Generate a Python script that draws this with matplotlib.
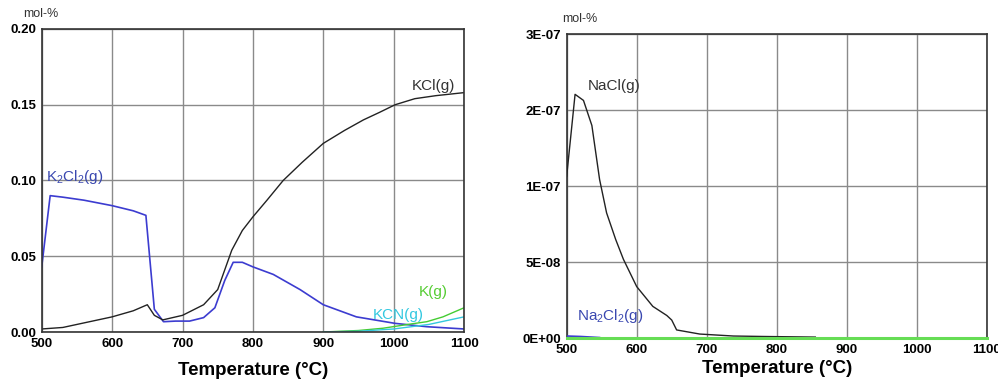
import numpy as np
import matplotlib
matplotlib.use("Agg")
import matplotlib.pyplot as plt

plt.rcParams['font.family'] = ['Liberation Sans', 'DejaVu Sans']
plt.rcParams['mathtext.fontset'] = 'custom'
plt.rcParams['mathtext.rm'] = 'Liberation Sans'
plt.rcParams['mathtext.it'] = 'Liberation Sans'

# ---------------- data: left panel ----------------
x_ticks = [500, 600, 700, 800, 900, 1000, 1100]
left_yticks = [0.00, 0.05, 0.10, 0.15, 0.20]

t_k2cl2 = [500, 512, 530, 560, 600, 630, 648, 660, 673, 690, 710, 730, 746, 760, 772, 785,
           800, 829, 867, 900, 947, 1002, 1047, 1100]
k2cl2 = [0.043, 0.090, 0.089, 0.087, 0.0834, 0.080, 0.077, 0.015, 0.0068, 0.0072, 0.0072,
         0.0095, 0.016, 0.034, 0.046, 0.046, 0.043, 0.038, 0.028, 0.018, 0.010, 0.0057, 0.0035, 0.002]

t_kcl = [500, 530, 560, 600, 630, 650, 660, 672, 700, 730, 750, 770, 785, 800, 820, 843,
         870, 900, 930, 957, 980, 1002, 1030, 1060, 1100]
kcl = [0.002, 0.003, 0.006, 0.010, 0.014, 0.018, 0.011, 0.008, 0.011, 0.018, 0.028, 0.054,
       0.067, 0.076, 0.087, 0.100, 0.112, 0.1245, 0.133, 0.140, 0.145, 0.150, 0.154, 0.156, 0.158]

t_k = [900, 950, 985, 1020, 1047, 1070, 1100]
k_g = [0.0, 0.001, 0.0025, 0.005, 0.0068, 0.010, 0.016]

t_kcn = [900, 950, 1000, 1050, 1100]
kcn = [0.0, 0.0005, 0.002, 0.005, 0.010]

# ---------------- data: right panel ----------------
right_ytick_vals = [0.0, 5e-8, 1e-7, 2e-7, 3e-7]
right_ytick_labels = ['0E+00', '5E-08', '1E-07', '2E-07', '3E-07']

t_nacl = [500, 512, 524, 536, 547, 557, 570, 581, 600, 623, 643, 650, 657, 690, 738, 781, 855]
nacl = [1.13e-7, 2.21e-7, 2.13e-7, 1.80e-7, 1.09e-7, 8.25e-8, 6.5e-8, 5.2e-8, 3.4e-8, 2.1e-8,
        1.5e-8, 1.2e-8, 5.5e-9, 2.8e-9, 1.5e-9, 1.2e-9, 0.8e-9]

t_na2cl2 = [500, 520, 547]
na2cl2 = [1.5e-9, 1.2e-9, 0.5e-9]

t_green = [500, 1100]
green_r = [0.0, 0.0]

BLUE = '#3c3cd0'
BLACK = '#222222'
GREEN = '#44cc33'
CYAN = '#33c8dd'
GRID = '#8a8a8a'

fig = plt.figure(figsize=(9.98, 3.84), dpi=100)
axL = fig.add_axes([0.0418, 0.1354, 0.4232, 0.7891])
axR = fig.add_axes([0.5678, 0.1190, 0.4211, 0.7917])


def style(ax, pad):
    ax.grid(True, color=GRID, linewidth=1.0)
    ax.set_axisbelow(True)
    for s in ax.spines.values():
        s.set_color('#333333')
        s.set_linewidth(1.2)
    ax.tick_params(length=0, pad=4, labelsize=9.5)
    for lab in ax.get_xticklabels() + ax.get_yticklabels():
        lab.set_fontweight('bold')
    ax.set_xlabel('Temperature (°C)', fontsize=13.5, fontweight='bold', labelpad=pad)


# left
axL.plot(t_k2cl2, k2cl2, color=BLUE, lw=1.2)
axL.plot(t_kcl, kcl, color=BLACK, lw=1.0)
axL.plot(t_k, k_g, color=GREEN, lw=1.0)
axL.plot(t_kcn, kcn, color=CYAN, lw=1.0)
axL.set_xlim(500, 1100)
axL.set_ylim(0, 0.20)
axL.set_xticks(x_ticks)
axL.set_yticks(left_yticks)
axL.set_yticklabels([f'{v:.2f}' for v in left_yticks])
style(axL, 9)
axL.text(506, 0.0995, r'K$_2$Cl$_2$(g)', color='#3a48b0', fontsize=11)
axL.text(1025, 0.1595, 'KCl(g)', color='#333333', fontsize=11)
axL.text(1036, 0.0235, 'K(g)', color='#55cc33', fontsize=11)
axL.text(970, 0.0085, 'KCN(g)', color='#33c8e0', fontsize=11)
axL.text(-0.045, 1.04, 'mol-%', transform=axL.transAxes, fontsize=9, color='#333333')

# right (gridlines equally spaced at non-uniform values)
pos = np.arange(len(right_ytick_vals), dtype=float)
vals = np.array(right_ytick_vals)
fwd = lambda v: np.interp(v, vals, pos, left=-1e-3, right=pos[-1])
inv = lambda p: np.interp(p, pos, vals)
axR.set_yscale('function', functions=(fwd, inv))
axR.plot(t_green, green_r, color='#66dd55', lw=2.2, zorder=5, clip_on=False)
axR.plot(t_nacl, nacl, color=BLACK, lw=1.0, zorder=4)
axR.plot(t_na2cl2, na2cl2, color=BLUE, lw=1.2, zorder=4)
axR.set_xlim(500, 1100)
axR.set_ylim(0, 3e-7)
axR.set_xticks(x_ticks)
axR.set_yticks(right_ytick_vals)
axR.set_yticklabels(right_ytick_labels)
axR.minorticks_off()
style(axR, 3)
axR.text(530, 2.27e-7, 'NaCl(g)', color='#333333', fontsize=11)
axR.text(515, 1.2e-8, r'Na$_2$Cl$_2$(g)', color='#3a48b0', fontsize=11)
axR.text(-0.01, 1.04, 'mol-%', transform=axR.transAxes, fontsize=9, color='#333333')

fig.savefig('out.png', dpi=100)
